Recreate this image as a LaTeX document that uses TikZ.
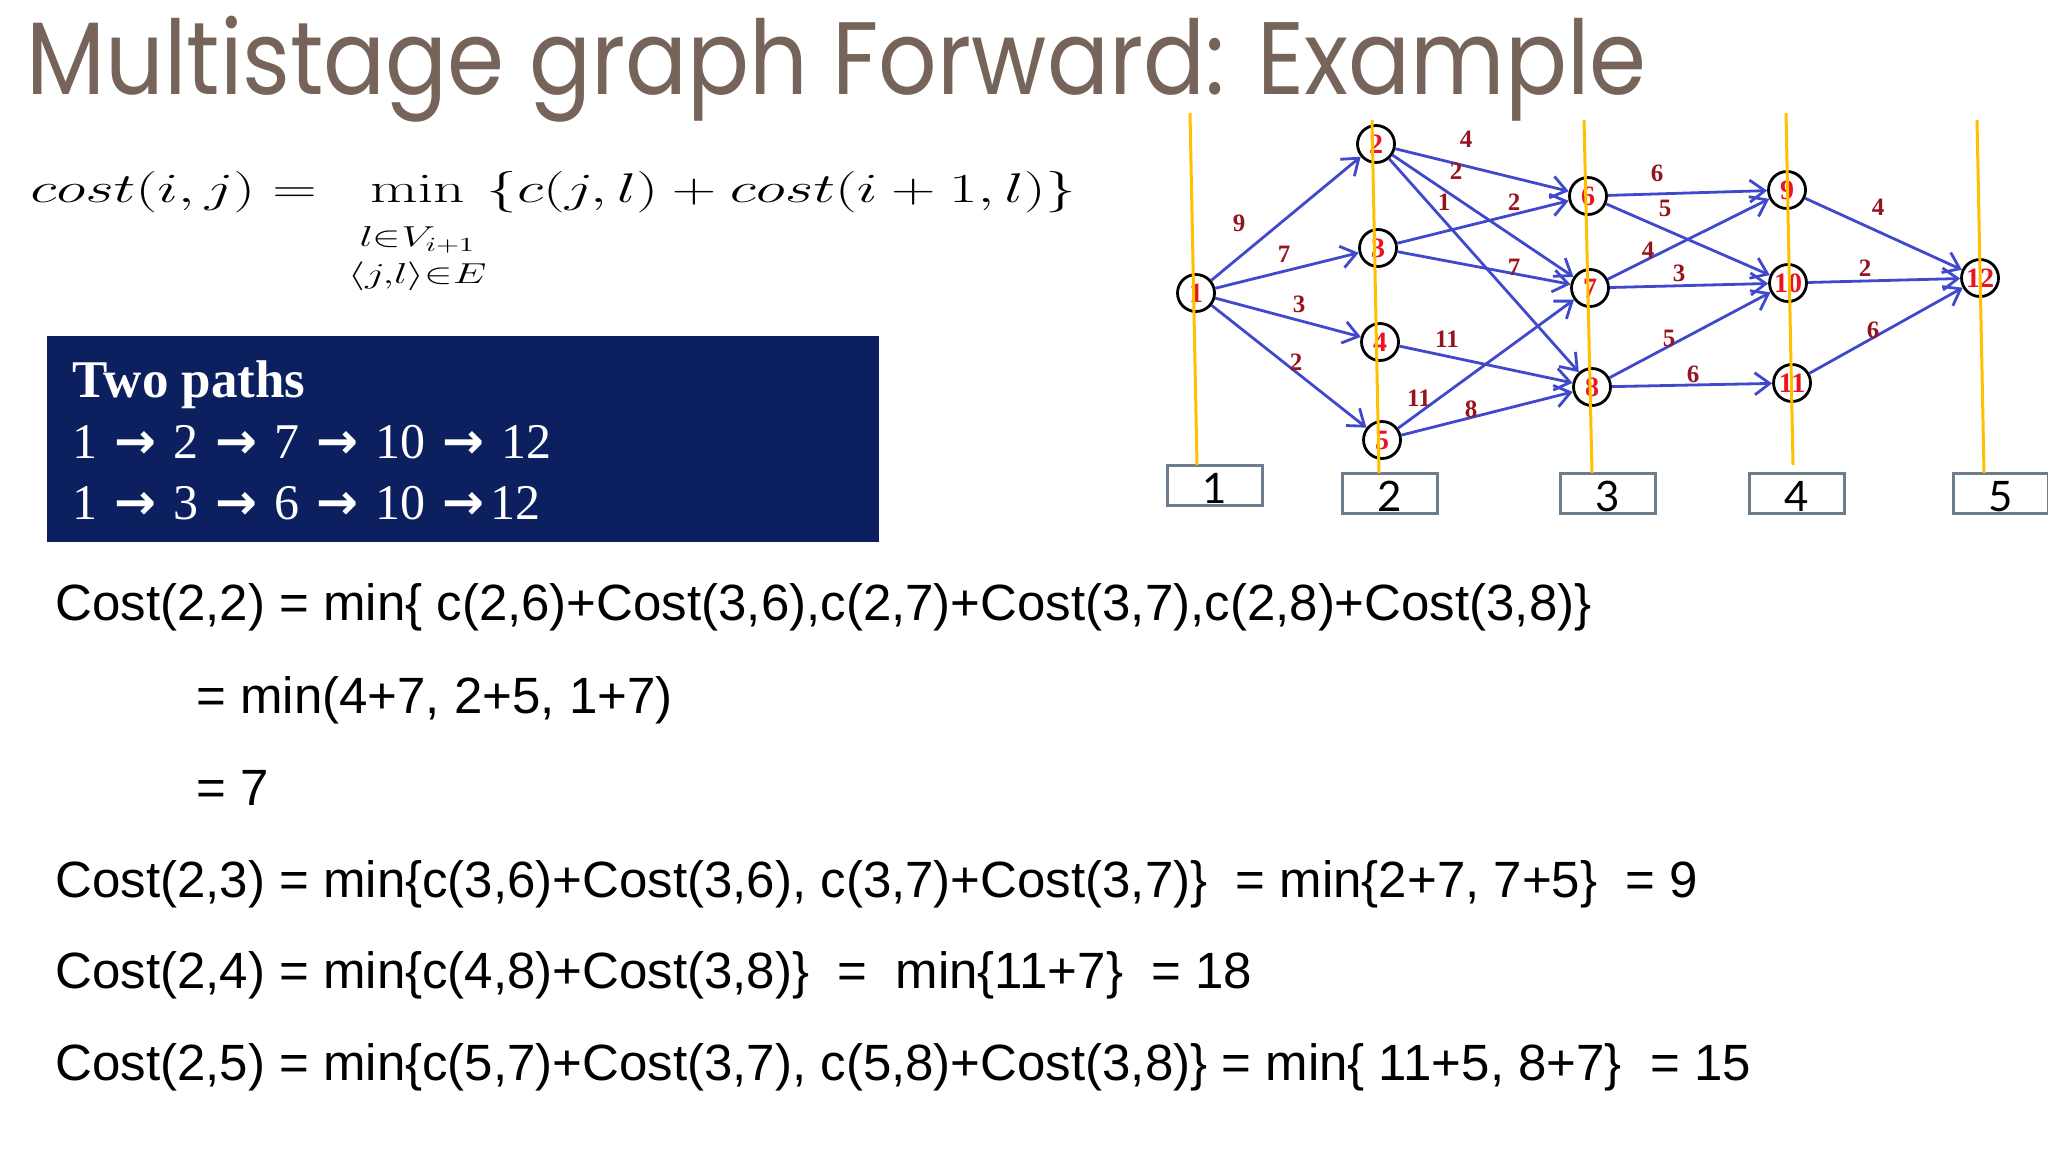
\documentclass[tikz,border=0pt]{standalone}
\usepackage{amsmath}
\usepackage{graphicx}
\usepackage[no-math]{fontspec}
\usetikzlibrary{arrows.meta}
\setmainfont{Liberation Serif}
\newfontfamily\titlefont{Poppins}
\newfontfamily\costfont{Liberation Sans}
\newfontfamily\stagefont{Lato}
\newfontfamily\arrowfont{DejaVu Sans}
\definecolor{titlebrown}{RGB}{118,100,90}
\definecolor{pathnavy}{RGB}{12,32,96}
\definecolor{nodered}{RGB}{235,20,30}
\definecolor{weightred}{RGB}{150,20,30}
\definecolor{edgeblue}{RGB}{64,72,204}
\definecolor{stagegray}{RGB}{110,125,140}
\definecolor{cutyellow}{RGB}{255,192,0}
\newcommand{\pathstep}{\resizebox{21pt}{!}{\arrowfont\bfseries →}}
\newcommand{\arr}{\hspace{8.5pt}\pathstep\hspace{8.5pt}}
\newcommand{\arrl}{\hspace{8.5pt}\pathstep\hspace{3pt}}
\begin{document}
\begin{tikzpicture}[x=0.5pt,y=-0.5pt,
    >={Straight Barb[length=7.5pt,width=11pt]},
    vertex/.style={circle,draw=black,line width=1.4pt,minimum size=18.5pt,inner sep=0pt,
      text=nodered,font=\bfseries\fontsize{14}{14}\selectfont},
    weight/.style={text=weightred,inner sep=0pt,font=\bfseries\fontsize{12.5}{12.5}\selectfont},
    edge/.style={->,draw=edgeblue,line width=1.4pt},
    stage/.style={draw=stagegray,line width=1.5pt,fill=white,minimum width=47.5pt,
      minimum height=20pt,inner sep=0pt,text height=18pt,text depth=0pt,
      font=\stagefont\fontsize{21}{21}\selectfont},
    cut/.style={draw=cutyellow,line width=1.5pt},
    pathtext/.style={anchor=base west,inner sep=0pt,text=white},
    costline/.style={anchor=base west,inner sep=0pt,font=\costfont\fontsize{25.5}{30}\selectfont}]
  \useasboundingbox (0,0) rectangle (2048,1152);

  % title and recurrence
  \node[anchor=base west,inner sep=0pt,text=titlebrown] (title) at (26,94)
    {\resizebox{810pt}{\height}{\titlefont\fontsize{51.5}{52}\selectfont Multistage graph Forward: Example}};
  \node[anchor=base west,inner sep=0pt] (rec) at (30,202)
    {\fontsize{20}{24}\selectfont\resizebox{523pt}{\height}{$\displaystyle cost(i,j) = \ \min_{\begin{subarray}{c}\rule{0pt}{19pt}l\in V_{i+1}\\[3pt] \langle j,l\rangle\in E\end{subarray}} \{c(j,l) + cost(i+1,l)\}$}};

  % the two paths
  \node[fill=pathnavy,anchor=north west,inner sep=0pt,minimum width=416pt,minimum height=103pt] (paths) at (47,336) {};
  \node[pathtext,font=\bfseries\fontsize{26.5}{27}\selectfont] (ptitle) at (72,397) {Two paths};
  \node[pathtext,font=\fontsize{25}{26}\selectfont] (pone) at (72,458) {1\arr 2\arr 7\arr 10\arr 12};
  \node[pathtext,font=\fontsize{25}{26}\selectfont] (ptwo) at (72,519) {1\arr 3\arr 6\arr 10\arrl 12};

  % graph
  \node[vertex] (n1) at (1196,293) {1};
  \node[vertex] (n2) at (1376,144) {2};
  \node[vertex] (n3) at (1378,248) {3};
  \node[vertex] (n4) at (1380,342) {4};
  \node[vertex] (n5) at (1382,440) {5};
  \node[vertex] (n6) at (1588,196) {6};
  \node[vertex] (n7) at (1590,288) {7};
  \node[vertex] (n8) at (1592,387) {8};
  \node[vertex] (n9) at (1787,190) {9};
  \node[vertex] (n10) at (1788,283) {10};
  \node[vertex] (n11) at (1792,383) {11};
  \node[vertex] (n12) at (1980,278) {12};

  \draw[edge] (n1) -- (n2);
  \draw[edge] (n1) -- (n3);
  \draw[edge] (n1) -- (n4);
  \draw[edge] (n1) -- (n5);
  \draw[edge] (n2) -- (n6);
  \draw[edge] (n2) -- (n7);
  \draw[edge] (n2) -- (n8);
  \draw[edge] (n3) -- (n6);
  \draw[edge] (n3) -- (n7);
  \draw[edge] (n4) -- (n8);
  \draw[edge] (n5) -- (n7);
  \draw[edge] (n5) -- (n8);
  \draw[edge] (n6) -- (n9);
  \draw[edge] (n6) -- (n10);
  \draw[edge] (n7) -- (n9);
  \draw[edge] (n7) -- (n10);
  \draw[edge] (n8) -- (n10);
  \draw[edge] (n8) -- (n11);
  \draw[edge] (n9) -- (n12);
  \draw[edge] (n10) -- (n12);
  \draw[edge] (n11) -- (n12);

  \node[weight] (w12) at (1239,223) {9};
  \node[weight] (w13) at (1284,254) {7};
  \node[weight] (w14) at (1299,304) {3};
  \node[weight] (w15) at (1296,362) {2};
  \node[weight] (w26) at (1466,139) {4};
  \node[weight] (w27) at (1456,171) {2};
  \node[weight] (w28) at (1444,202) {1};
  \node[weight] (w36) at (1514,202) {2};
  \node[weight] (w37) at (1514,267) {7};
  \node[weight] (w48) at (1447,339) {11};
  \node[weight] (w57) at (1419,398) {11};
  \node[weight] (w58) at (1471,409) {8};
  \node[weight] (w69) at (1657,173) {6};
  \node[weight] (w610) at (1665,208) {5};
  \node[weight] (w79) at (1648,250) {4};
  \node[weight] (w710) at (1679,273) {3};
  \node[weight] (w810) at (1669,338) {5};
  \node[weight] (w811) at (1693,374) {6};
  \node[weight] (w912) at (1878,207) {4};
  \node[weight] (w1012) at (1865,268) {2};
  \node[weight] (w1112) at (1873,330) {6};

  % stages
  \node[stage] (s1) at (1214.5,485) {1};
  \node[stage] (s2) at (1389.5,493) {2};
  \node[stage] (s3) at (1608,493) {3};
  \node[stage] (s4) at (1796.5,493) {4};
  \node[stage] (s5) at (2000.5,493) {5};
  \coordinate (t1) at (1190,113);
  \coordinate (b1) at (1197,465);
  \coordinate (t2) at (1372,120);
  \coordinate (b2) at (1379,473);
  \coordinate (t3) at (1584,120);
  \coordinate (b3) at (1592,473);
  \coordinate (t4) at (1786,113);
  \coordinate (b4) at (1793,465);
  \coordinate (t5) at (1977,120);
  \coordinate (b5) at (1984,473);
  \draw[cut] (t1) -- (b1);
  \draw[cut] (t2) -- (b2);
  \draw[cut] (t3) -- (b3);
  \draw[cut] (t4) -- (b4);
  \draw[cut] (t5) -- (b5);

  % stage 2 costs
  \node[costline] (c22) at (55,620) {Cost(2,2) = min\{ c(2,6)+Cost(3,6),c(2,7)+Cost(3,7),c(2,8)+Cost(3,8)\}};
  \node[costline] (c22b) at (196,713) {= min(4+7, 2+5, 1+7)};
  \node[costline] (c22c) at (196,805) {= 7};
  \node[costline] (c23) at (55,897) {Cost(2,3) = min\{c(3,6)+Cost(3,6), c(3,7)+Cost(3,7)\}\ \ = min\{2+7, 7+5\}\ \ = 9};
  \node[costline] (c24) at (55,988) {Cost(2,4) = min\{c(4,8)+Cost(3,8)\}\ \ =\ \ min\{11+7\}\ \ = 18};
  \node[costline] (c25) at (55,1080) {Cost(2,5) = min\{c(5,7)+Cost(3,7), c(5,8)+Cost(3,8)\} = min\{ 11+5, 8+7\}\ \ = 15};
\end{tikzpicture}
\end{document}
